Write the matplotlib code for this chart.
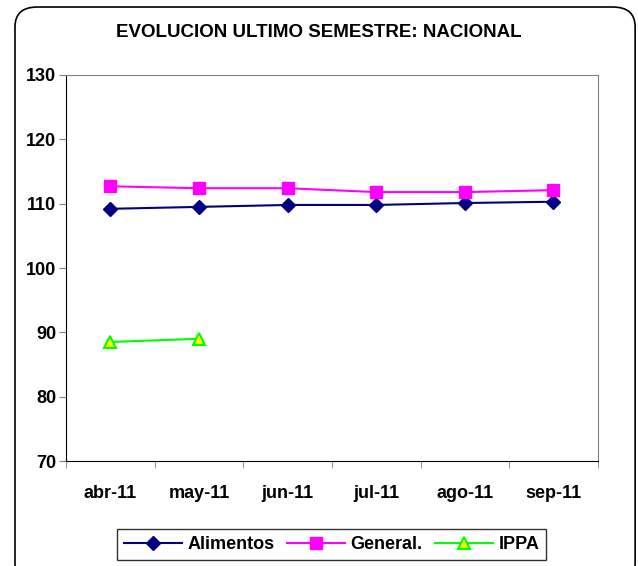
import matplotlib.pyplot as plt
from matplotlib.patches import FancyBboxPatch

plt.rcParams['font.family'] = ['Liberation Sans', 'DejaVu Sans']
plt.rcParams['font.weight'] = 'bold'

meses = ['abr-11', 'may-11', 'jun-11', 'jul-11', 'ago-11', 'sep-11']
alimentos = [109.2, 109.5, 109.8, 109.8, 110.1, 110.3]
general = [112.7, 112.4, 112.4, 111.8, 111.8, 112.1]
ippa = [88.5, 89.0]

fig = plt.figure(figsize=(6.38, 5.66), dpi=100)
# marco redondeado del grafico (el borde inferior queda fuera de la imagen)
fig.patches.append(FancyBboxPatch((0.0235, -0.03), 0.972, 1.0176, boxstyle="round,pad=0,rounding_size=0.035",
                                  transform=fig.transFigure, fill=False, edgecolor='black', linewidth=1.2))

ax = fig.add_axes([0.1034, 0.1855, 0.8336, 0.682])
x = list(range(len(meses)))
ax.plot(x, alimentos, color='#000080', marker='D', markersize=7, linewidth=1.5, label='Alimentos')
ax.plot(x, general, color='#FF00FF', marker='s', markersize=8, linewidth=1.5, label='General.')
ax.plot(x[:len(ippa)], ippa, color='#00FF00', marker='^', markersize=9, markerfacecolor='#FFFF00',
        markeredgecolor='#00FF00', markeredgewidth=1.5, linewidth=1.5, label='IPPA')

ax.set_xlim(-0.5, len(meses) - 0.5)
ax.set_ylim(70, 130)
ax.set_yticks(range(70, 131, 10))
ax.set_xticks(x)
ax.set_xticklabels(meses)
ax.set_xticks([i - 0.5 for i in range(len(meses) + 1)], minor=True)
ax.tick_params(axis='x', which='major', length=0, pad=17, labelsize=13)
ax.tick_params(axis='x', which='minor', length=5, direction='out', color='#808080')
ax.tick_params(axis='y', length=5, direction='out', color='#808080', labelsize=13, pad=2)
for lbl in ax.get_xticklabels() + ax.get_yticklabels():
    lbl.set_fontweight('bold')

for s in ['top', 'right']:
    ax.spines[s].set_color('#808080')
for s in ['left', 'bottom']:
    ax.spines[s].set_color('black')

fig.text(0.5, 0.943, 'EVOLUCION ULTIMO SEMESTRE: NACIONAL', ha='center', va='center',
         fontsize=13.5, fontweight='bold')

leg = fig.legend(loc='center', bbox_to_anchor=(0.520, 0.0375), ncol=3, frameon=True, fancybox=False,
                 edgecolor='black', fontsize=13, handlelength=3.2, columnspacing=0.7,
                 handletextpad=0.3, borderpad=0.4, borderaxespad=0)
leg.get_frame().set_linewidth(1.0)
for t in leg.get_texts():
    t.set_fontweight('bold')

fig.savefig('out.png', dpi=100)
